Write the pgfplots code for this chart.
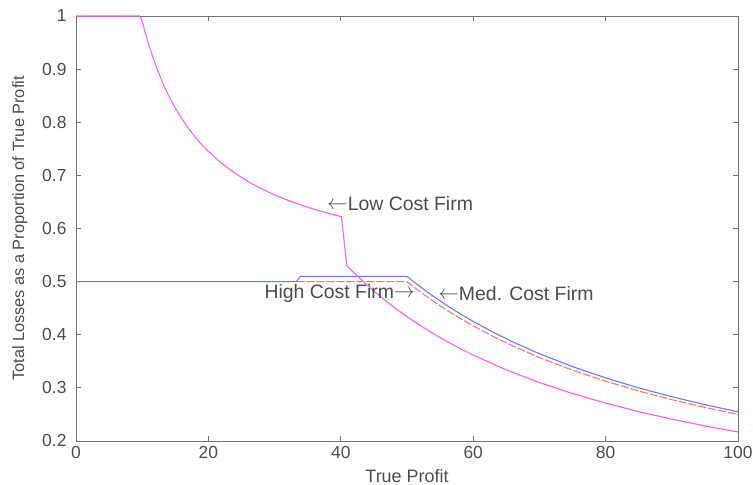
\documentclass[border=0pt]{standalone}
\usepackage{fontspec}
\setmainfont{Liberation Sans}
\usepackage{pgfplots}
\pgfplotsset{compat=1.18}
\usetikzlibrary{calc}
\definecolor{mag}{rgb}{1,0.35,1}
\definecolor{bl}{rgb}{0.42,0.47,1}
\definecolor{rd}{rgb}{1,0.45,0.45}
\definecolor{txt}{gray}{0.3}
\newcommand{\la}{\raisebox{0.5bp}{$\leftarrow$}}
\newcommand{\ra}{\raisebox{0.5bp}{$\rightarrow$}}
\begin{document}
\begin{tikzpicture}
\begin{axis}[
  scale only axis, width=662bp, height=425bp,
  xmin=0, xmax=100, ymin=0.2, ymax=1,
  xtick={0,20,40,60,80,100},
  ytick={0.2,0.3,0.4,0.5,0.6,0.7,0.8,0.9,1},
  yticklabels={0.2,0.3,0.4,0.5,0.6,0.7,0.8,0.9,1},
  tick align=inside, major tick length=5bp,
  axis line style={black!55, line width=0.9bp},
  every tick/.style={black!55, line width=0.9bp},
  tick label style={font=\fontsize{17.5}{19}\selectfont, text=txt},
  xticklabel style={yshift=-2bp},
  yticklabel style={xshift=-6bp},
  /pgf/number format/assume math mode=true,
  clip=false,
]
\coordinate (SW) at (rel axis cs:0,0);
\coordinate (SE) at (rel axis cs:1,0);
\coordinate (NW) at (rel axis cs:0,1);
\coordinate (NE) at (rel axis cs:1,1);
% Red (high cost firm)
\addplot[rd, line width=1.1bp, dash pattern=on 8bp off 2bp] coordinates {
(33.3,0.5)(50,0.5)(51,0.4902)(52,0.4808)(54,0.4630)(56,0.4464)(58,0.4310)(60,0.4167)(63,0.3968)(66,0.3788)(70,0.3571)(75,0.3333)(80,0.3125)(85,0.2941)(90,0.2778)(95,0.2632)(100,0.25)};
% Blue (medium cost firm)
\addplot[bl, line width=1.1bp] coordinates {
(0,0.5)(33.3,0.5)(33.9,0.51)(50,0.51)(51,0.5)(52,0.4904)(54,0.4722)(56,0.4554)(58,0.4397)(60,0.425)(63,0.4048)(66,0.3864)(70,0.3643)(75,0.34)(80,0.3188)(85,0.3)(90,0.2833)(95,0.2684)(100,0.255)};
% Magenta (low cost firm)
\addplot[mag, line width=1.1bp] coordinates {
(0,1)(9.6,1)(10,0.99)(10.5,0.9667)(11,0.9455)(12,0.9083)(13,0.8769)(14,0.85)(15,0.8267)(16,0.8063)(17,0.7882)(18,0.7722)(19,0.7579)(20,0.745)(22,0.7227)(24,0.7042)(26,0.6885)(28,0.675)(30,0.6633)(32,0.6531)(34,0.6441)(36,0.6361)(38,0.6289)(40.1,0.6222)(40.9,0.530)(42,0.5167)(44,0.4932)(46,0.4717)(48,0.4521)(50,0.434)(52,0.4173)(55,0.3945)(58,0.3741)(60,0.3617)(65,0.3338)(70,0.31)(75,0.2893)(80,0.2713)(85,0.2553)(90,0.2411)(95,0.2284)(100,0.217)};
\node[anchor=west, inner sep=0, text=txt, font=\fontsize{19.5}{21}\selectfont] at (axis cs:37.9,0.647) {\la Low Cost Firm};
\node[anchor=east, inner sep=0, text=txt, font=\fontsize{19.5}{21}\selectfont] at (axis cs:51.2,0.478) {High Cost Firm\ra};
\node[anchor=west, inner sep=0, text=txt, font=\fontsize{19.5}{21}\selectfont] at (axis cs:54.7,0.478) {\la Med. Cost Firm};
\end{axis}
\node[text=txt, font=\fontsize{18}{20}\selectfont] at ($ (SW)!0.5!(SE) + (0,-35bp) $) {True Profit};
\node[rotate=90, text=txt, font=\fontsize{16.4}{18}\selectfont] at ($ (SW)!0.5!(NW) + (-56bp,0) $) {Total Losses as a Proportion of True Profit};
\pgfresetboundingbox
\path[use as bounding box] ([shift={(-76bp,-44bp)}]SW) rectangle ([shift={(15bp,16bp)}]NE);
\end{tikzpicture}
\end{document}
